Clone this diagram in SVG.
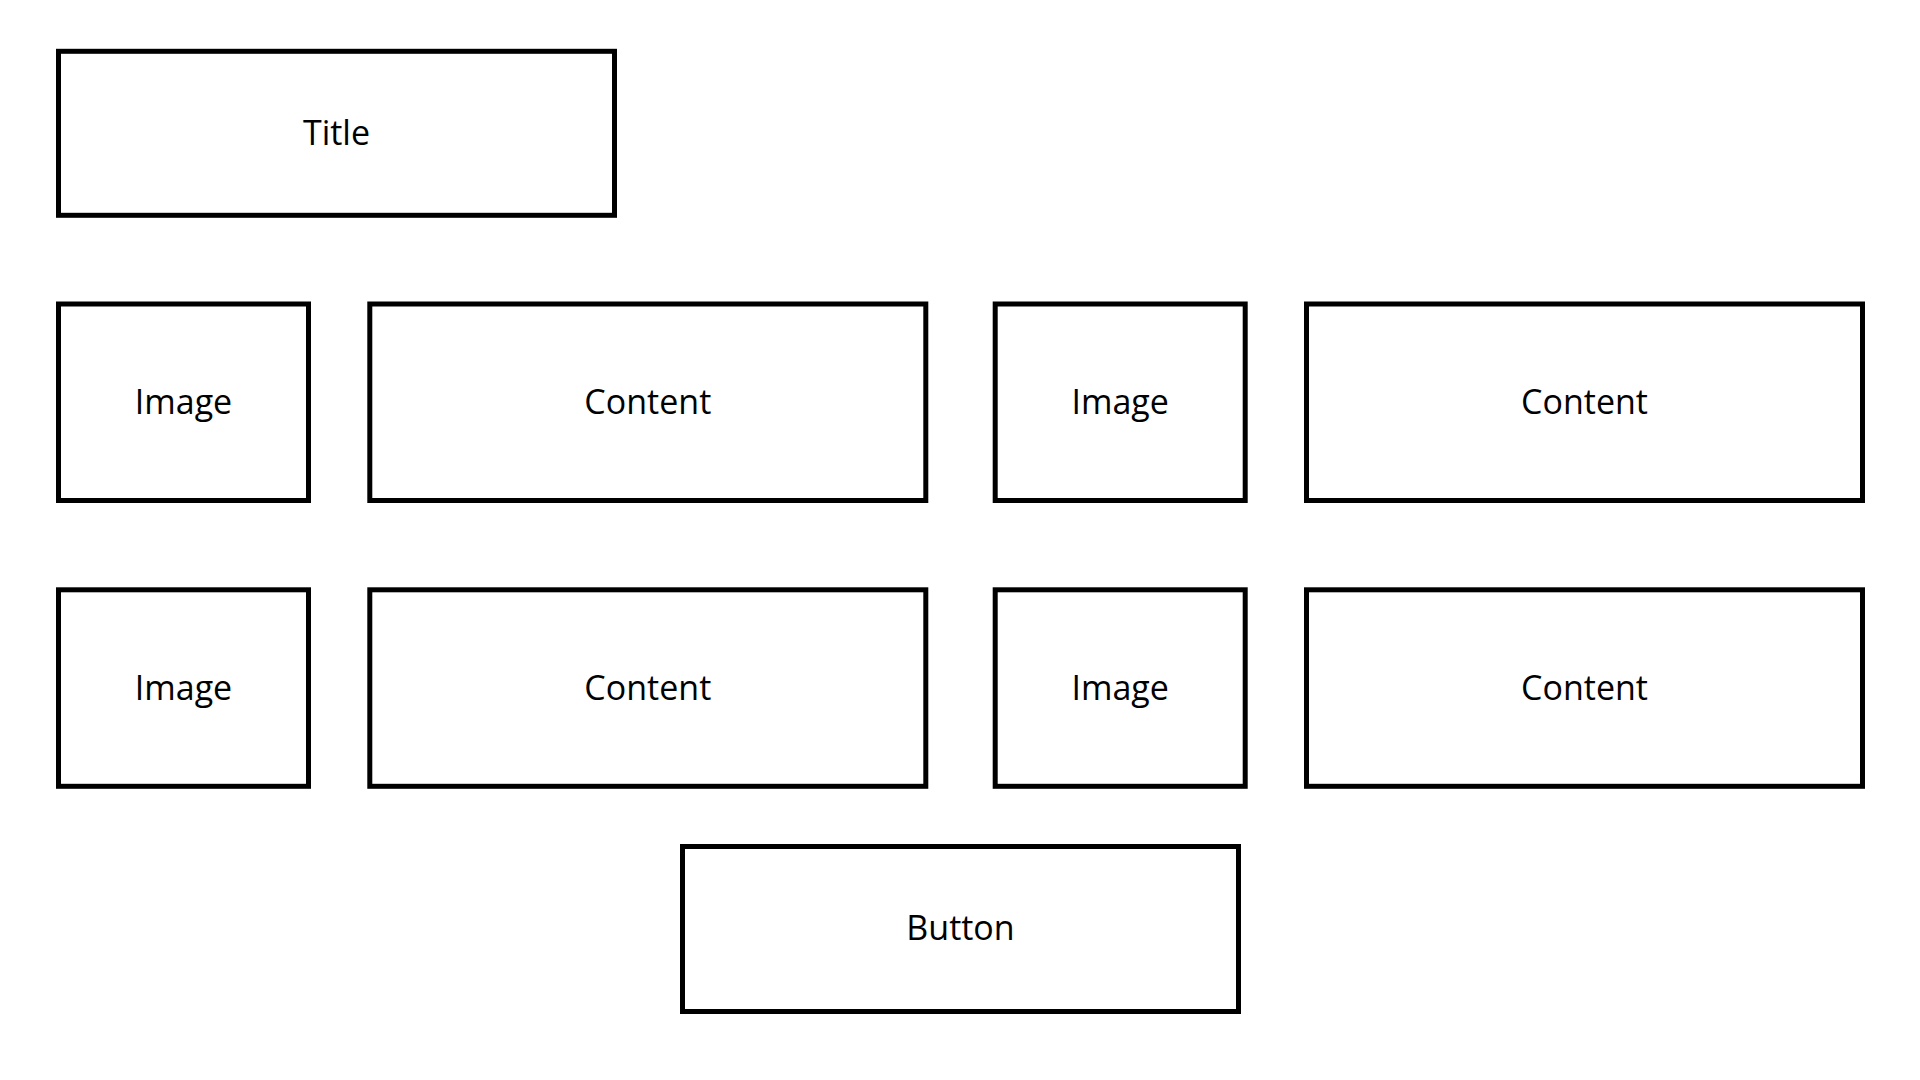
<svg xmlns="http://www.w3.org/2000/svg" width="1920" height="1080" viewBox="0 0 1920 1080">
<style>
.box{fill:#fff;stroke:#000;stroke-width:5}
.lbl{font-family:"Open Sans","Noto Sans","Liberation Sans",sans-serif;font-size:34px;fill:#000;text-anchor:middle}
</style>
<rect width="1920" height="1080" fill="#fff"/>
<g id="connectors"></g>
<g id="title"><rect class="box" x="58.5" y="51.3" width="556" height="164"/><text class="lbl" x="336.5" y="144.8">Title</text></g>
<g id="image1"><rect class="box" x="58.5" y="304" width="250" height="196.5"/><text class="lbl" x="183.5" y="413.7">Image</text></g>
<g id="content1"><rect class="box" x="369.8" y="304" width="556" height="196.5"/><text class="lbl" x="647.8" y="413.7">Content</text></g>
<g id="image2"><rect class="box" x="995.2" y="304" width="250" height="196.5"/><text class="lbl" x="1120.2" y="413.7">Image</text></g>
<g id="content2"><rect class="box" x="1306.5" y="304" width="556" height="196.5"/><text class="lbl" x="1584.5" y="413.7">Content</text></g>
<g id="image3"><rect class="box" x="58.5" y="589.8" width="250" height="196.5"/><text class="lbl" x="183.5" y="699.5">Image</text></g>
<g id="content3"><rect class="box" x="369.8" y="589.8" width="556" height="196.5"/><text class="lbl" x="647.8" y="699.5">Content</text></g>
<g id="image4"><rect class="box" x="995.2" y="589.8" width="250" height="196.5"/><text class="lbl" x="1120.2" y="699.5">Image</text></g>
<g id="content4"><rect class="box" x="1306.5" y="589.8" width="556" height="196.5"/><text class="lbl" x="1584.5" y="699.5">Content</text></g>
<g id="button"><rect class="box" x="682.5" y="846.5" width="556" height="165"/><text class="lbl" x="960.5" y="939.5">Button</text></g>
</svg>
